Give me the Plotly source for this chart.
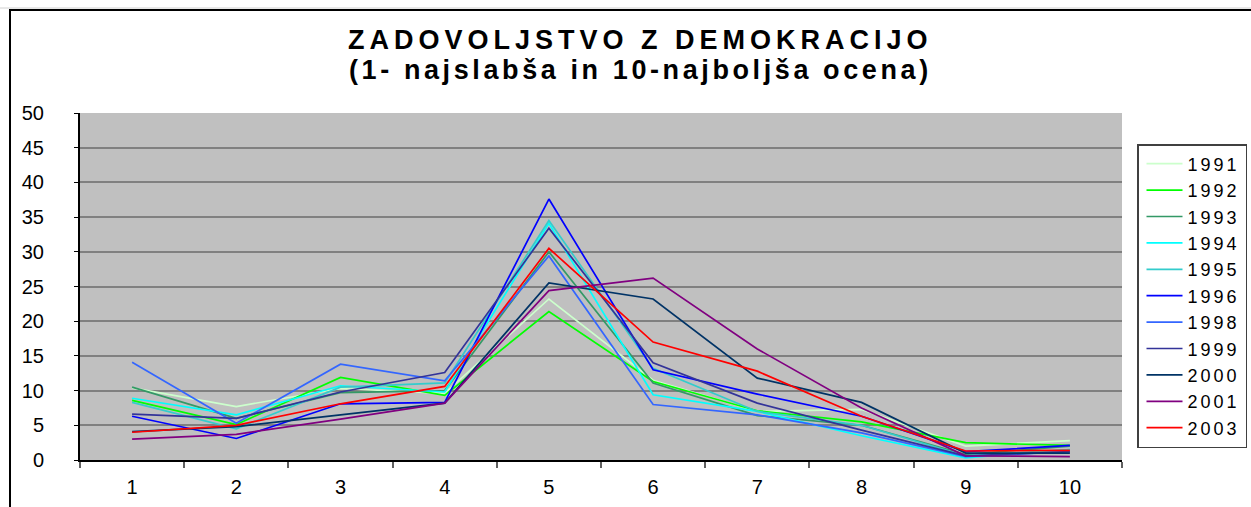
import plotly.graph_objects as go

categories = ["1", "2", "3", "4", "5", "6", "7", "8", "9", "10"]
years = ["1991", "1992", "1993", "1994", "1995", "1996", "1998", "1999", "2000", "2001", "2003"]

v1991 = [10.4, 7.7, 10.3, 9.6, 23.2, 11.5, 7.0, 7.3, 2.0, 2.8]
v1992 = [8.6, 5.1, 11.9, 9.3, 21.4, 11.3, 7.1, 5.5, 2.5, 2.1]
v1993 = [10.5, 6.0, 9.7, 10.0, 30.0, 11.1, 6.4, 5.0, 0.8, 2.0]
v1994 = [8.9, 6.5, 10.7, 9.8, 34.1, 9.4, 7.0, 3.5, 0.3, 1.5]
v1995 = [8.3, 4.5, 10.5, 11.1, 34.5, 13.2, 7.0, 5.0, 0.6, 1.5]
v1996 = [6.3, 3.1, 8.1, 8.3, 37.6, 13.0, 9.5, 6.3, 1.2, 2.1]
v1998 = [14.1, 5.3, 13.8, 11.4, 29.4, 8.0, 6.5, 3.9, 0.5, 1.2]
v1999 = [6.6, 6.0, 9.8, 12.6, 33.4, 14.0, 8.2, 4.3, 0.6, 1.2]
v2000 = [4.1, 4.8, 6.5, 8.2, 25.5, 23.2, 11.8, 8.3, 1.0, 1.0]
v2001 = [3.0, 3.7, 5.9, 8.2, 24.4, 26.2, 16.0, 7.5, 0.6, 0.5]
v2003 = [4.0, 5.0, 8.1, 10.6, 30.5, 17.0, 12.8, 6.3, 1.3, 1.4]

series = [v1991, v1992, v1993, v1994, v1995, v1996, v1998, v1999, v2000, v2001, v2003]
colors = ["#CCFFCC", "#00FF00", "#339966", "#00FFFF", "#33CCCC", "#0000FF",
          "#3366FF", "#333399", "#003366", "#800080", "#FF0000"]

yticks = [0, 5, 10, 15, 20, 25, 30, 35, 40, 45, 50]

title1 = "ZADOVOLJSTVO Z DEMOKRACIJO"
title2 = "(1- najslabša in 10-najboljša ocena)"

FONT = "Liberation Sans, Arial, sans-serif"

fig = go.Figure()
for name, vals, col in zip(years, series, colors):
    fig.add_trace(go.Scatter(
        x=categories, y=vals, mode="lines",
        name='<span style="letter-spacing:3px">' + name + '</span>',
        line=dict(color=col, width=1.7)))

# plot area in pixels: x 80..1122, y 113..460
L, R, T, B = 80, 1122, 113, 460
W, H = R - L, B - T

def px(x):
    return (x - L) / W

def py(y):
    return (B - y) / H

fig.update_layout(
    width=1251, height=507,
    margin=dict(l=L, r=1251 - R, t=T, b=507 - B, autoexpand=False),
    paper_bgcolor="white",
    plot_bgcolor="#C0C0C0",
    font=dict(family=FONT, size=20, color="black"),
    showlegend=True,
    legend=dict(x=px(1137), y=py(144), xanchor="left", yanchor="top",
                bgcolor="white", bordercolor="#404040", borderwidth=1.5,
                font=dict(family=FONT, size=18, color="black"),
                tracegroupgap=0, indentation=3, itemwidth=36),
    annotations=[
        dict(text='<span style="letter-spacing:5.0px">' + title1 + '</span>',
             x=px(640), y=py(40), xref="paper", yref="paper",
             xanchor="center", yanchor="middle", showarrow=False,
             font=dict(family=FONT, size=27, color="black", weight="bold")),
        dict(text='<span style="letter-spacing:3.6px">' + title2 + '</span>',
             x=px(640), y=py(70), xref="paper", yref="paper",
             xanchor="center", yanchor="middle", showarrow=False,
             font=dict(family=FONT, size=27, color="black", weight="bold")),
    ],
    shapes=[
        dict(type="line", xref="paper", yref="paper", x0=px(0), x1=px(1251),
             y0=py(8), y1=py(8), line=dict(color="#D0D0D0", width=1)),
        dict(type="rect", xref="paper", yref="paper", x0=px(10), x1=px(1300),
             y0=py(560), y1=py(10), line=dict(color="black", width=2)),
    ],
)

fig.update_xaxes(
    type="category", range=[-0.5, 9.5], tickson="boundaries", ticks="outside", ticklen=6,
    tickcolor="#606060", tickwidth=2, showline=True, linecolor="black", linewidth=2,
    showgrid=False, ticklabelstandoff=8,
    tickfont=dict(family=FONT, size=20, color="black"),
)
fig.update_yaxes(
    range=[0, 50], tickvals=yticks, ticks="outside", ticklen=4, tickcolor="black",
    showline=True, linecolor="black", linewidth=2,
    showgrid=True, gridcolor="#808080", gridwidth=1.5, zeroline=False,
    ticklabelstandoff=26,
    tickfont=dict(family=FONT, size=20, color="black"),
)

fig.write_html("out.html", config={"displayModeBar": False},
               post_script="document.body.style.margin='0';")
